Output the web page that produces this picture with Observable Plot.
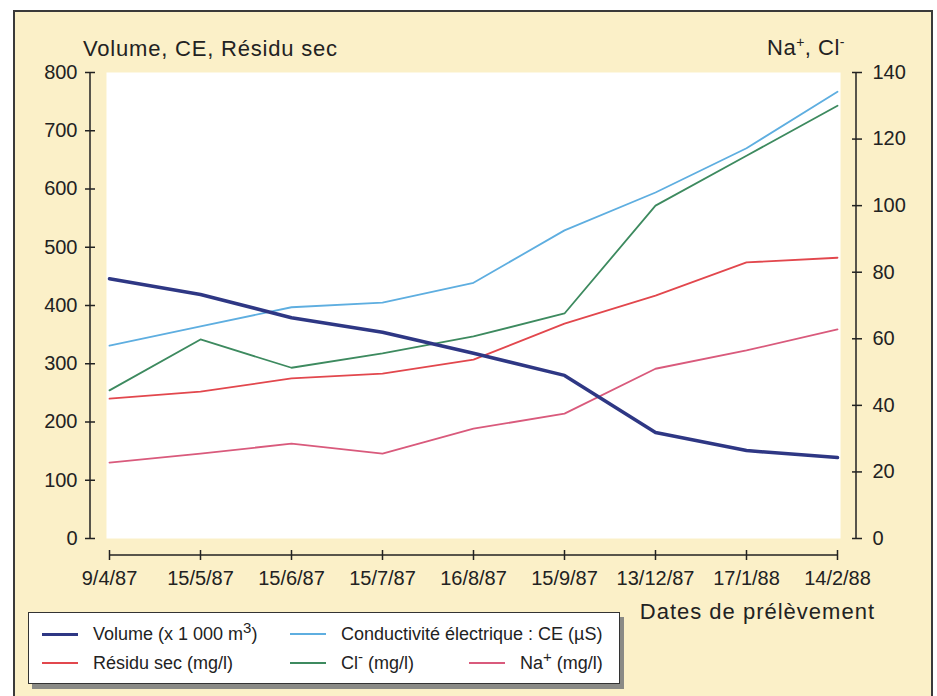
<!DOCTYPE html>
<html><head><meta charset="utf-8">
<script src="https://cdn.jsdelivr.net/npm/d3@7"></script>
<script src="https://cdn.jsdelivr.net/npm/@observablehq/plot@0.6"></script>
<style>
body{margin:0;background:#fff;font-family:"Liberation Sans",Arial,sans-serif;color:#222;}
#wrap{position:relative;width:937px;height:696px;overflow:hidden;}
#panel{position:absolute;left:13px;top:10px;width:920px;height:700px;background:#fbf0c8;border:2px solid #3a3a3a;box-sizing:border-box;}
#chart{position:absolute;left:0;top:0;}
.lab{position:absolute;white-space:nowrap;}
#legend{position:absolute;left:28px;top:612px;width:592px;height:72px;background:#fff;border:1.5px solid #333;box-sizing:border-box;box-shadow:4px 5px 0 #8a8a86;font-size:18px;}
.item{position:absolute;white-space:nowrap;display:flex;align-items:center;height:22px;line-height:22px;}
.sw{display:inline-block;width:36px;height:0;border-top:3px solid;margin-right:15px;}
sup{line-height:0;}
</style></head>
<body><div id="wrap"><div id="panel"></div><div id="chart"></div>
<div class="lab" style="left:83px;top:38px;font-size:22px;line-height:22px;letter-spacing:0.8px;">Volume, CE, Résidu sec</div>
<div class="lab" style="right:92px;top:37px;font-size:22px;line-height:22px;letter-spacing:0.5px;">Na<sup style="font-size:14px">+</sup>, Cl<sup style="font-size:14px">-</sup></div>
<div class="lab" style="right:62px;top:600px;font-size:22px;line-height:24px;letter-spacing:1px;">Dates de prélèvement</div>
<div id="legend"></div>
</div>
<script>
const dates = ["9/4/87","15/5/87","15/6/87","15/7/87","16/8/87","15/9/87","13/12/87","17/1/88","14/2/88"];
const volume = [446,419,379,354,318,280,182,151,139];
const ce = [331,364,397,405,439,529,594,670,767];
const residu = [240,252,275,283,307,369,417,474,482];
const cl = [44.5,59.8,51.3,55.6,60.7,67.6,100,115,130];
const na = [22.8,25.5,28.5,25.5,33,37.5,51,56.5,62.8];
const leftTicks = [0,100,200,300,400,500,600,700,800];
const rightTicks = [0,20,40,60,80,100,120,140];
const leftMax = 800, rightMax = 140;

const k = leftMax / rightMax;
const series = [
  {key:"ce", label:"Conductivité électrique : CE (µS)", values:ce, right:false, color:"#5eaee0", width:1.8},
  {key:"cl", label:"Cl<sup>-</sup> (mg/l)", values:cl, right:true, color:"#3d8a5f", width:1.8},
  {key:"residu", label:"Résidu sec (mg/l)", values:residu, right:false, color:"#e2474d", width:1.8},
  {key:"na", label:"Na<sup>+</sup> (mg/l)", values:na, right:true, color:"#d95a7c", width:1.8},
  {key:"volume", label:"Volume (x 1 000 m<sup>3</sup>)", values:volume, right:false, color:"#2e3784", width:3.5}
];
const rows = series.flatMap(s => s.values.map((v,i) => ({date:dates[i], v: s.right ? v*k : v, key:s.key})));

const axisLines = (index, scales, values, dims) => {
  const {x, y} = scales;
  const g = d3.create("svg:g").attr("stroke","#222").attr("stroke-width",1.5).attr("fill","none");
  const xl = dims.marginLeft - 16, xr = dims.width - dims.marginRight + 16;
  g.append("line").attr("x1",xl).attr("x2",xl).attr("y1",y(leftMax)).attr("y2",y(0));
  g.append("line").attr("x1",xr).attr("x2",xr).attr("y1",y(leftMax)).attr("y2",y(0));
  const yb = y(0) + 17;
  g.append("line").attr("x1",x(dates[0])).attr("x2",x(dates[dates.length-1])).attr("y1",yb).attr("y2",yb);
  return g.node();
};

const plot = Plot.plot({
  width:937, height:696,
  marginLeft:106, marginRight:97, marginTop:72, marginBottom:158,
  style:{background:"transparent", fontFamily:'"Liberation Sans", Arial, sans-serif', fontSize:"20px", color:"#222", overflow:"visible"},
  x:{type:"point", domain:dates, padding:0},
  y:{domain:[0,leftMax]},
  marks:[
    Plot.frame({fill:"white", stroke:"none"}),
    axisLines,
    Plot.axisY(leftTicks, {anchor:"left", tickSize:10, dx:-11, tickPadding:8, label:null, strokeWidth:1.5, fill:"#222"}),
    Plot.axisY(rightTicks.map(v => v*k), {anchor:"right", tickSize:10, dx:11, tickPadding:11, label:null, strokeWidth:1.5, fill:"#222", tickFormat: d => String(Math.round(d/k))}),
    Plot.axisX(dates, {anchor:"bottom", tickSize:10, dy:12, tickPadding:10, label:null, strokeWidth:1.5, fill:"#222"}),
    ...series.map(s => Plot.line(rows.filter(r => r.key === s.key), {x:"date", y:"v", stroke:s.color, strokeWidth:s.width, strokeLinejoin:"round"}))
  ]
});
document.getElementById("chart").appendChild(plot);

const layout = {
  volume:{left:13, top:10}, ce:{left:261, top:10},
  residu:{left:13, top:39}, cl:{left:261, top:39}, na:{left:440, top:39}
};
const legend = d3.select("#legend");
for (const s of ["volume","ce","residu","cl","na"].map(k => series.find(d => d.key === k))) {
  const it = legend.append("div").attr("class","item").style("left", layout[s.key].left + "px").style("top", layout[s.key].top + "px");
  it.append("span").attr("class","sw").style("border-top-color", s.color).style("border-top-width", (s.key==="volume"?3.5:2.5)+"px");
  it.append("span").html(s.label);
}
</script>
</body></html>
